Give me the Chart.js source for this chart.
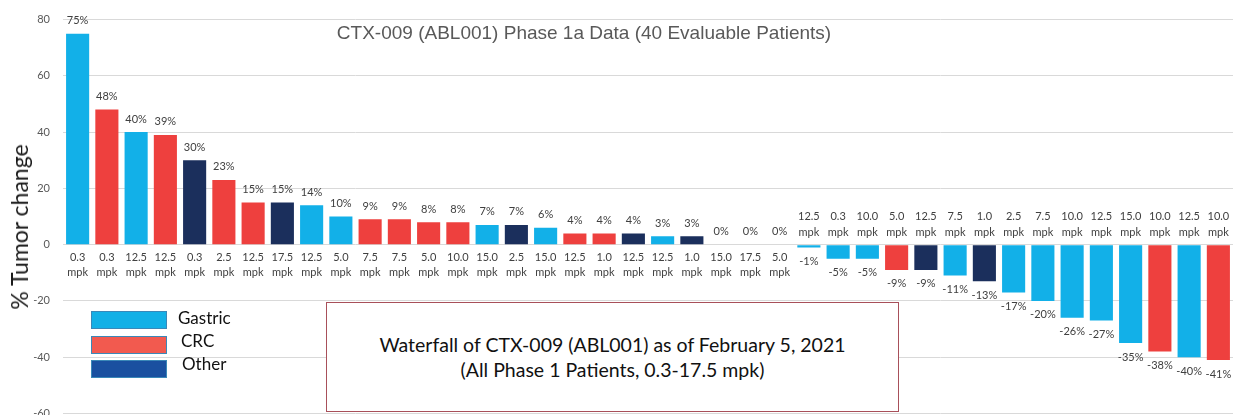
<!DOCTYPE html>
<html>
<head>
<meta charset="utf-8">
<script src="https://cdn.jsdelivr.net/npm/chart.js@4.4.1/dist/chart.umd.min.js"></script>
<style>
  html, body { margin:0; padding:0; background:#fff; }
  #wrap { position:relative; width:1233px; height:415px; overflow:hidden; }
  canvas { position:absolute; left:0; top:0; }
  .title { position:absolute; left:284px; width:600px; top:22px; text-align:center;
           font-family:"Liberation Sans", Arial, sans-serif; font-size:19px; color:#595959; white-space:nowrap; }
  .ytitle { position:absolute; left:19px; top:227px; transform:translate(-50%,-50%) rotate(-90deg);
            font-family:Lato, sans-serif; font-size:23px; color:#1a1a1a; white-space:nowrap; }
  .sw { position:absolute; left:91px; width:74px; height:16px; border:1px solid #3a88b8; }
  .lt { position:absolute; font-family:Lato, sans-serif; font-size:17px; color:#111; line-height:20px; }
  .box { position:absolute; left:326px; top:302px; width:571px; height:108px; border:1px solid #a8505a;
         background:#fff; font-family:Lato, sans-serif; font-size:19.5px; color:#111; text-align:center; }
  .box div { position:absolute; left:0; width:100%; }
</style>
</head>
<body>
<div id="wrap">
  <canvas id="c" width="1233" height="433"></canvas>
  <div class="title">CTX-009 (ABL001) Phase 1a Data (40 Evaluable Patients)</div>
  <div class="ytitle">% Tumor change</div>
  <div class="sw" style="top:311px;background:#13B0E6;"></div>
  <div class="sw" style="top:336px;background:#F25A4F;"></div>
  <div class="sw" style="top:360px;background:#1A50A0;"></div>
  <div class="lt" style="left:178px;top:308px;">Gastric</div>
  <div class="lt" style="left:181px;top:331px;">CRC</div>
  <div class="lt" style="left:182px;top:354px;">Other</div>
  <div class="box">
    <div style="top:30px;">Waterfall of CTX-009 (ABL001) as of February 5, 2021</div>
    <div style="top:55px;">(All Phase 1 Patients, 0.3-17.5 mpk)</div>
  </div>
</div>
<script>
const values = [75,48,40,39,30,23,15,15,14,10,9,9,8,8,7,7,6,4,4,4,3,3,0,0,0,
                -1,-5,-5,-9,-9,-11,-13,-17,-20,-26,-27,-35,-38,-40,-41];
const types = ['G','C','G','C','O','C','C','O','G','G','C','C','C','C','G','O','G','C','C','O','G','O','G','G','G',
               'G','G','G','C','O','G','O','G','G','G','G','G','C','G','C'];
const doses = ['0.3','0.3','12.5','12.5','0.3','2.5','12.5','17.5','12.5','5.0','7.5','7.5','5.0','10.0','15.0','2.5','15.0','12.5','1.0','12.5','12.5','1.0','15.0','17.5','5.0',
               '12.5','0.3','10.0','5.0','12.5','7.5','1.0','2.5','7.5','10.0','12.5','15.0','10.0','12.5','10.0'];
const yTicks = [-60,-40,-20,0,20,40,60,80];
const typeColors = { G:'#12B0E8', C:'#EE403E', O:'#1B2F5C' };

const labelPlugin = {
  id: 'barLabels',
  afterDatasetsDraw(chart) {
    const ctx = chart.ctx;
    const meta = chart.getDatasetMeta(0);
    const zero = chart.scales.y.getPixelForValue(0);
    ctx.save();
    ctx.font = '11px Lato, sans-serif';
    ctx.fillStyle = '#404040';
    ctx.textAlign = 'center';
    ctx.textBaseline = 'middle';
    meta.data.forEach((bar, i) => {
      const v = values[i];
      const x = bar.x;
      if (v >= 0) {
        ctx.fillText(v + '%', x, bar.y - 13);
        ctx.fillText(doses[i], x, zero + 13);
        ctx.fillText('mpk', x, zero + 28);
      } else {
        ctx.fillText(v + '%', x, bar.y + 14);
        ctx.fillText(doses[i], x, zero - 28);
        ctx.fillText('mpk', x, zero - 12);
      }
    });
    ctx.restore();
  }
};

new Chart(document.getElementById('c'), {
  type: 'bar',
  data: {
    labels: doses.map((d, i) => d + ' mpk #' + (i + 1)),
    datasets: [{
      data: values,
      backgroundColor: types.map(t => typeColors[t]),
      borderWidth: 0,
      barPercentage: 0.79,
      categoryPercentage: 1.0
    }]
  },
  options: {
    responsive: false,
    devicePixelRatio: 1,
    animation: false,
    layout: { padding: { top: 19, bottom: 0, left: 0, right: 0 } },
    plugins: { legend: { display: false }, tooltip: { enabled: false }, title: { display: false } },
    scales: {
      x: { display: false, grid: { display: false } },
      y: {
        min: -60, max: 80,
        afterFit(scale) { scale.width = 63; },
        afterBuildTicks(scale) { scale.ticks = yTicks.map(v => ({ value: v })); },
        ticks: { color: '#595959', font: { family: 'Lato', size: 11 }, padding: 13 },
        grid: { color: '#d9d9d9', drawTicks: false, lineWidth: 1 },
        border: { display: false }
      }
    }
  },
  plugins: [labelPlugin]
});
</script>
</body>
</html>
